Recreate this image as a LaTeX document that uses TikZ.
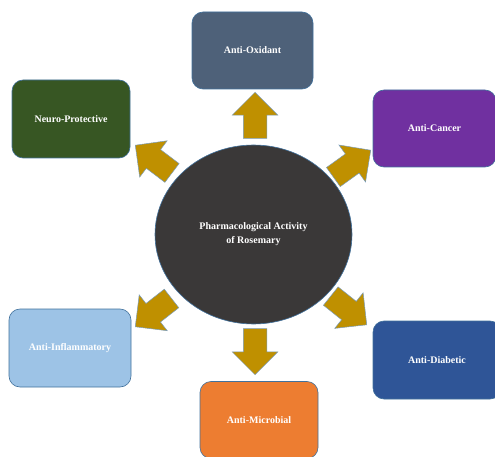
\documentclass[tikz,border=0pt]{standalone}
\usepackage{fontspec}
\setmainfont{Liberation Serif}
\usetikzlibrary{shapes.geometric,shapes.arrows}
\definecolor{hub}{HTML}{3A3838}
\definecolor{edgeline}{HTML}{41719C}
\definecolor{gold}{HTML}{BF9000}
\definecolor{oxid}{HTML}{4E6179}
\definecolor{neuro}{HTML}{375623}
\definecolor{cancer}{HTML}{7030A0}
\definecolor{inflam}{HTML}{9DC3E6}
\definecolor{microb}{HTML}{ED7D31}
\definecolor{diab}{HTML}{2F5597}
\begin{document}
\begin{tikzpicture}[x=1pt,y=-1pt,
  box/.style={draw=edgeline,line width=0.6pt,rounded corners=11pt,text=white,
    font=\bfseries\fontsize{10}{12}\selectfont,inner sep=0pt},
  goldarrow/.style={single arrow,draw=edgeline!70,fill=gold,line width=0.5pt,
    minimum height=46pt,single arrow head extend=11pt,
    inner xsep=0pt,inner ysep=11.5pt,anchor=tip}]
\clip (0,0) rectangle (495,457);
\node[ellipse,draw=edgeline,fill=hub,line width=0.6pt,minimum width=197pt,minimum height=179pt,
  text=white,align=center,font=\bfseries\fontsize{10}{14}\selectfont] (c) at (253.5,234.5) {Pharmacological Activity\\of Rosemary};
\node[box,fill=oxid,minimum width=121pt,minimum height=77pt] (b1) at (252.5,50.5) {Anti-Oxidant};
\node[box,fill=neuro,minimum width=118pt,minimum height=78pt] (b2) at (71,119) {Neuro-Protective};
\node[box,fill=cancer,minimum width=123pt,minimum height=77pt] (b3) at (434.5,128.5) {Anti-Cancer};
\node[box,fill=inflam,minimum width=122pt,minimum height=78pt] (b4) at (70,348) {Anti-Inflammatory};
\node[box,fill=microb,minimum width=118pt,minimum height=77pt] (b5) at (259,420) {Anti-Microbial};
\node[box,fill=diab,minimum width=128pt,minimum height=78pt] (b6) at (437,360) {Anti-Diabetic};

\node[goldarrow,rotate=90] (a1) at (255,92) {};
\node[goldarrow,rotate=142.9] (a2) at (135,145) {};
\node[goldarrow,rotate=35.7] (a3) at (371,150) {};
\node[goldarrow,rotate=218] (a4) at (135,327) {};
\node[goldarrow,rotate=-90] (a5) at (255,375) {};
\node[goldarrow,rotate=-38.6] (a6) at (367,325) {};
\end{tikzpicture}
\end{document}
